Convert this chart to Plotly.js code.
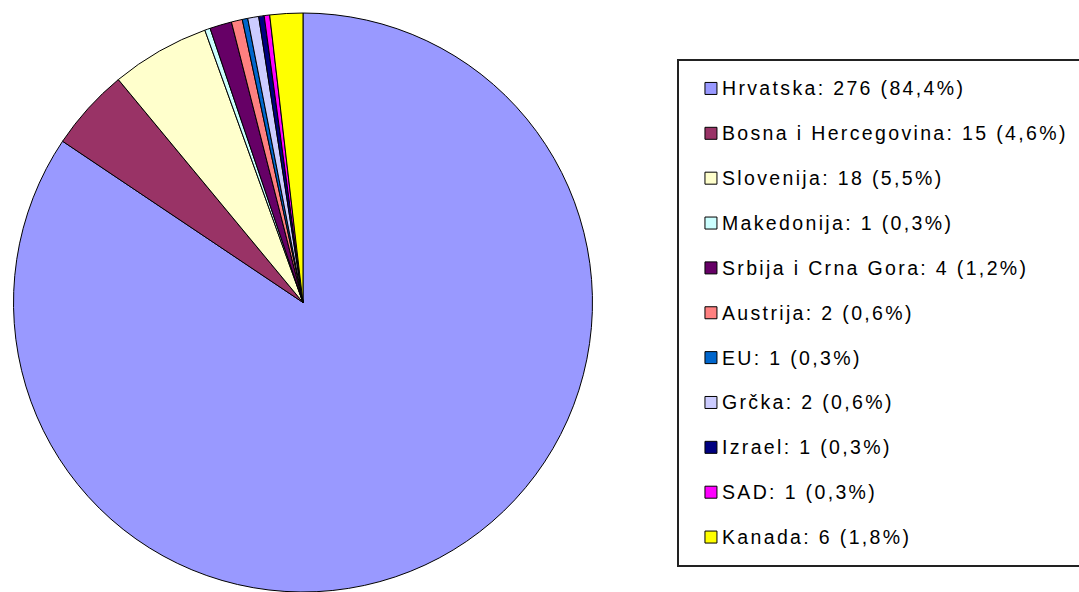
<!DOCTYPE html>
<html><head><meta charset="utf-8">
<script src="https://cdn.plot.ly/plotly-3.0.1.min.js"></script>
<style>
html,body{margin:0;padding:0;background:#fff;}
#chart{width:1079px;height:592px;}
.legend .legendtext{transform:translate(-21px,-5.6px);}
</style></head><body><div id="chart"></div>
<script>
const countries = ['Hrvatska','Bosna i Hercegovina','Slovenija','Makedonija','Srbija i Crna Gora','Austrija','EU','Grčka','Izrael','SAD','Kanada'];
const counts = [276,15,18,1,4,2,1,2,1,1,6];
const percents = ['84,4','4,6','5,5','0,3','1,2','0,6','0,3','0,6','0,3','0,3','1,8'];
const colors = ['#9999FF','#993366','#FFFFCC','#CCFFFF','#660066','#FF8080','#0066CC','#CCCCFF','#000080','#FF00FF','#FFFF00'];

const labels = countries.map((c,i)=>'<span style="font-size:19.5px;letter-spacing:2.35px">'+c+': '+counts[i]+' ('+percents[i]+'%)</span>');

const trace = {
  type:'pie',
  labels: labels,
  values: counts,
  sort:false,
  direction:'clockwise',
  rotation:0,
  textinfo:'none',
  hoverinfo:'label',
  marker:{colors:colors, line:{color:'#000000', width:1}},
  domain:{x:[0.01251,0.5491], y:[0,0.978]}
};

const layout = {
  width:1079, height:592,
  margin:{l:0,r:0,t:0,b:0,autoexpand:false},
  paper_bgcolor:'#ffffff',
  showlegend:true,
  legend:{
    x:0.6274, xanchor:'left', y:0.9003, yanchor:'top',
    bgcolor:'#ffffff', bordercolor:'#222222', borderwidth:2,
    itemwidth:54,
    font:{family:'Liberation Sans, Arial, sans-serif', size:32.2, color:'#000000'},
    traceorder:'normal'
  }
};

Plotly.newPlot('chart',[trace],layout,{displayModeBar:false, staticPlot:true});
</script></body></html>
